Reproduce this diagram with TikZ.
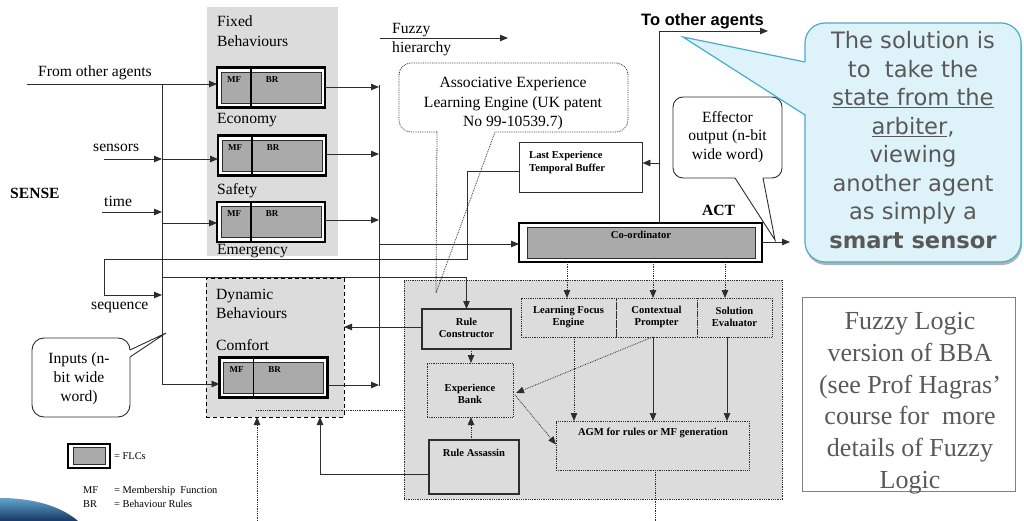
\documentclass[tikz,border=0pt]{standalone}
\usepackage{fontspec}
\setmainfont{Liberation Serif}
\newfontfamily\notesans{DejaVu Sans}
\newfontfamily\headsans{Liberation Sans}
\usetikzlibrary{arrows.meta,shadows,calc}

\definecolor{panel}{RGB}{220,220,220}
\definecolor{flcgray}{RGB}{170,170,170}
\definecolor{wire}{RGB}{45,45,45}
\definecolor{notefill}{RGB}{222,243,249}
\definecolor{noteedge}{RGB}{75,172,198}
\definecolor{notetext}{RGB}{89,89,89}
\definecolor{boxedge}{RGB}{128,128,128}
\definecolor{swooshtop}{RGB}{95,165,205}
\definecolor{swooshbot}{RGB}{25,55,100}

\tikzset{
  wire/.style={draw=wire, line width=0.9pt},
  arr/.style={wire, -{Triangle[length=8pt,width=6.5pt]}},
  dotwire/.style={draw=wire, line width=0.8pt, densely dotted},
  darr/.style={dotwire, -{Triangle[length=8pt,width=6.5pt]}},
  lab/.style={inner sep=0pt, anchor=base west, font=\fontsize{15.6}{19}\selectfont},
  boldlab/.style={inner sep=0pt, anchor=base west, font=\fontsize{15.6}{19}\selectfont\bfseries},
  tag/.style={inner sep=0pt, align=center, font=\fontsize{10.6}{12.5}\selectfont\bfseries},
  legend/.style={inner sep=0pt, anchor=base west, font=\fontsize{10.4}{12}\selectfont},
  panelbox/.style={fill=panel, inner sep=0pt, outer sep=0pt},
  unitbox/.style={draw=wire, line width=0.8pt, densely dotted, inner sep=0pt, outer sep=0pt},
  solidbox/.style={draw=wire, line width=1.2pt, inner sep=0pt, outer sep=0pt},
  flcframe/.style={draw=black, line width=2.2pt, fill=white, minimum width=108pt,
    minimum height=40pt, inner sep=0pt, outer sep=0pt},
  flccore/.style={draw=wire, line width=0.8pt, fill=flcgray, minimum width=100pt,
    minimum height=31pt, inner sep=0pt},
  flctag/.style={inner sep=0pt, font=\fontsize{9}{10}\selectfont\bfseries},
  notelines/.style={inner sep=0pt, align=center, anchor=north},
}

% one fuzzy logic controller: framed grey block split into MF and BR
\newcommand{\flcunit}[3]{%
  \node[flcframe] (#1) at (#2,#3) {};
  \node[flccore] (#1-core) at (#2,#3) {};
  \draw[black, line width=1.2pt] ($(#1.north west)+(34,0)$) -- ($(#1.south west)+(34,0)$);
  \node[flctag] (#1-mf) at ($(#1.north west)+(17,12)$) {MF};
  \node[flctag] (#1-br) at ($(#1.north west)+(55,12)$) {BR};
}

\begin{document}
\begin{tikzpicture}[x=1pt,y=-1pt]
\fill[white] (0,0) rectangle (1024,521);
\useasboundingbox (0,0) rectangle (1024,521);

% slide swoosh
\shade[top color=swooshtop, bottom color=swooshbot]
  (0,498) .. controls (35,498) and (62,507) .. (78,521) -- (0,521) -- cycle;

% ---------- panels ----------
\node[panelbox, minimum width=131pt, minimum height=249pt] (fixedpanel) at (272.5,131.5) {};
\node[panelbox, draw=black, line width=0.9pt, dash pattern=on 4pt off 3pt,
      minimum width=138pt, minimum height=139pt] (dyn) at (275,347.5) {};
\node[panelbox, draw=wire, line width=0.8pt, densely dotted,
      minimum width=378pt, minimum height=219pt] (engine) at (593,389.5) {};

% ---------- fixed behaviours ----------
\node[lab] (fixedA) at (217,27) {Fixed};
\node[lab] (fixedB) at (217,47) {Behaviours};
\node[lab] (economy) at (217,124) {Economy};
\node[lab] (safety) at (217,195) {Safety};
\node[lab] (emergency) at (217,254) {Emergency};

\flcunit{f1}{271}{87.5}
\flcunit{f2}{272}{155.5}
\flcunit{f3}{271}{222}

% ---------- dynamic behaviours ----------
\node[lab] (dynA) at (216,299) {Dynamic};
\node[lab] (dynB) at (216,318) {Behaviours};
\node[lab] (comfort) at (216,350) {Comfort};
\flcunit{f4}{273.5}{377.5}

% ---------- sense side ----------
\node[boldlab] (sense) at (10,199) {SENSE};
\node[lab] (fromlbl) at (38,77) {From other agents};
\node[lab] (senslbl) at (93,152) {sensors};
\node[lab] (timelbl) at (104,207) {time};
\node[lab] (seqlbl) at (91,309) {sequence};

\coordinate (busLtop) at (162,84);
\coordinate (busLbot) at (162,384);
\coordinate (fromsrc) at (27,84);
\coordinate (senssrc) at (104,159);
\coordinate (timesrc) at (102,212);
\coordinate (timetap) at (162,223);

\draw[arr] (fromsrc) -- (fromsrc -| f1.west);
\draw[arr] (busLtop) -- (busLbot) -- (busLbot -| f4.west);
\draw[arr] (senssrc) -- (senssrc -| busLtop);
\draw[arr] (senssrc -| busLtop) -- (senssrc -| f2.west);
\draw[arr] (timesrc) -- (timesrc -| busLtop);
\draw[arr] (timetap) -- (timetap -| f3.west);

% ---------- behaviour outputs ----------
\coordinate (busRtop) at (379,85);
\coordinate (busRbot) at (379,386);
\coordinate (hier) at (379,244);
\draw[wire] (busRtop) -- (busRbot);
\coordinate (f1o) at ($(f1.east)+(0,-0.5)$);
\coordinate (f2o) at ($(f2.east)+(0,-1.5)$);
\coordinate (f3o) at ($(f3.east)+(0,-2)$);
\coordinate (f4o) at ($(f4.east)+(0,7.5)$);
\draw[arr] (f1o) -- (f1o -| busRtop);
\draw[arr] (f2o) -- (f2o -| busRtop);
\draw[arr] (f3o) -- (f3o -| busRtop);
\draw[arr] (f4o) -- (f4o -| busRtop);

\coordinate (fhsrc) at (380,38);
\coordinate (fhend) at (508,38);
\draw[arr] (fhsrc) -- (fhend);
\node[lab] (fuzzA) at (392,34) {Fuzzy};
\node[lab] (fuzzB) at (392,53) {hierarchy};

% ---------- co-ordinator ----------
\node[flcframe, minimum width=243pt, minimum height=39pt] (coord) at (640.5,242.5) {};
\node[flccore, minimum width=228pt, minimum height=31pt] (coordcore) at (641,242.5) {};
\node[tag] (coordlbl) at (641,234.5) {Co-ordinator};
\node[boldlab] (act) at (702,215) {ACT};
\draw[arr] (hier) -- (hier -| coord.west);

% ---------- last experience buffer ----------
\node[draw=wire, line width=0.9pt, fill=white, minimum width=123pt, minimum height=50pt,
      inner sep=0pt] (le) at (580.5,167) {};
\node[tag, align=left, anchor=north west] (lelbl) at (529,151) {Last Experience\\Temporal Buffer};

\coordinate (upbus) at (659,31);
\coordinate (toagents) at (768,31);
\draw[arr] (upbus |- coord.north) -- (upbus) -- (toagents);
\coordinate (lein) at ($(le.east)+(0,-4)$);
\draw[arr] (lein -| upbus) -- (lein);
\node[inner sep=0pt, anchor=base, font=\headsans\fontsize{16.5}{19}\selectfont\bfseries]
  (toagentslbl) at (702.5,26) {To other agents};

% sequence feedback from the buffer to the input bus
\coordinate (leout) at ($(le.west)+(0,4)$);
\coordinate (seqdrop) at (467,259);
\coordinate (seqleft) at (104,259);
\coordinate (seqin) at (162,295);
\draw[arr] (leout) -| (seqdrop) -- (seqleft) |- (seqin);

% ---------- learning engine ----------
\node[solidbox, fill=panel, minimum width=89pt, minimum height=40pt] (rc) at (466.5,329) {};
\node[tag] (rclbl) at (466.5,328) {Rule\\Constructor};
\node[unitbox, minimum width=86pt, minimum height=54pt] (eb) at (470,390) {};
\node[tag] (eblbl) at (470,394) {Experience\\Bank};
\node[solidbox, minimum width=90pt, minimum height=54pt] (ra) at (474,467) {};
\node[tag] (ralbl) at (474,452.5) {Rule Assassin};

\node[unitbox, minimum width=95pt, minimum height=39pt] (lfe) at (568.5,317.5) {};
\node[tag] (lfelbl) at (568.5,317) {Learning Focus\\Engine};
\node[unitbox, minimum width=81pt, minimum height=39pt] (cp) at (656.5,317.5) {};
\node[tag] (cplbl) at (656.5,317) {Contextual\\Prompter};
\node[unitbox, minimum width=75pt, minimum height=39pt] (se) at (734.5,317.5) {};
\node[tag] (selbl) at (734.5,317) {Solution\\Evaluator};
\node[unitbox, minimum width=193pt, minimum height=49pt] (agm) at (652.5,445.5) {};
\node[tag] (agmlbl) at (653,433) {AGM for rules or MF generation};

\coordinate (rcfeed) at (162,277);
\draw[arr] (rcfeed) -| (rc.north);
\coordinate (rcout) at ($(rc.west)+(0,-2)$);
\draw[arr] (rcout) -- (rcout -| dyn.east);

\coordinate (rcdown) at ($(rc.south)+(4.5,0)$);
\coordinate (raup) at ($(ra.north)+(-3,0)$);
\draw[darr] (rcdown) -- (rcdown |- eb.north);
\draw[darr] (raup) -- (raup |- eb.south);

% co-ordinator tasks the three evaluators
\coordinate (lfetop) at ($(lfe.north)+(-1.5,0)$);
\coordinate (cptop) at ($(cp.north)+(-3.5,0)$);
\coordinate (setop) at ($(se.north)+(-9.5,0)$);
\draw[darr] (lfetop |- coord.south) -- (lfetop);
\draw[darr] (cptop |- coord.south) -- (cptop);
\draw[darr] (setop |- coord.south) -- (setop);

% evaluators feed the AGM
\coordinate (lfebot) at ($(lfe.south)+(5.5,0)$);
\coordinate (cpbot) at ($(cp.south)+(-3.5,0)$);
\coordinate (sebot) at ($(se.south)+(-7.5,0)$);
\draw[darr] (lfebot) -- (lfebot |- agm.north);
\draw[arr, line width=0.7pt] (cpbot) -- (cpbot |- agm.north);
\draw[arr, line width=0.7pt] (sebot) -- (sebot |- agm.north);

\draw[darr] ($(cp.south)+(-4,0)$) -- ($(eb.east)+(3,3)$);
\draw[darr] ($(eb.east)+(2,5)$) -- ($(agm.west)+(0,-1)$);

\coordinate (agmout) at (655,521);
\draw[dotwire] (agmout |- agm.south) -- (agmout);

% returns into the dynamic behaviours
\coordinate (dynin) at (257,521);
\draw[darr] (dynin) -- (dynin |- dyn.south);
\coordinate (dynlink) at (256,410);
\draw[dotwire] (dynlink) -- (dynlink -| engine.west);
\coordinate (raret) at (320,474);
\draw[arr] ($(ra.west)+(0,7)$) -- (raret) -- (raret |- dyn.south);

% ---------- effector output ----------
\coordinate (effout) at (790,242);
\draw[arr] (coord.east |- effout) -- (effout);

% ---------- callouts ----------
% associative engine note (dotted)
\draw[dotwire, rounded corners=12pt] (437,132) -- (399,132) -- (399,63) -- (628,63) -- (628,132) -- (495,132);
\draw[dotwire] (437,132) -- (436,293) -- (495,132);
\node[notelines, font=\fontsize{15.6}{19.5}\selectfont] (assoc) at (513,77)
  {Associative Experience\\Learning Engine (UK patent\\No 99-10539.7)};

% effector note
\draw[wire, rounded corners=10pt] (735,178) -- (673,178) -- (673,97) -- (782,97) -- (782,178) -- (763,178);
\draw[wire] (735,178) -- (775,240) -- (763,178);
\node[notelines, font=\fontsize{15.6}{18.5}\selectfont] (effector) at (727.5,111)
  {Effector\\output (n-bit\\wide word)};

% inputs note
\draw[wire, rounded corners=12pt] (130,350) -- (130,338) -- (32,338) -- (32,417) -- (130,417) -- (130,357);
\draw[wire] (130,350) -- (166,333) -- (130,357);
\node[notelines, font=\fontsize{15.6}{19}\selectfont] (inputs) at (79,352)
  {Inputs (n-\\bit wide\\word)};

% ---------- legend ----------
\node[flcframe, minimum width=42pt, minimum height=24pt] (legflc) at (89,456) {};
\node[flccore, minimum width=32pt, minimum height=17pt] (legflccore) at (89,455.5) {};
\node[legend] (legA) at (114,459) {= FLCs};
\node[legend] (legMF) at (83,493) {MF};
\node[legend] (legMFt) at (114,493) {= Membership\ \ Function};
\node[legend] (legBR) at (83,507) {BR};
\node[legend] (legBRt) at (114,507) {= Behaviour Rules};

% ---------- side note box ----------
\node[draw=boxedge, line width=1pt, minimum width=213pt, minimum height=194pt,
      inner sep=0pt] (fuzzynote) at (908.5,394) {};
\node[notelines, text=notetext, font=\fontsize{26}{31.8}\selectfont] (fuzzytext) at (910,312)
  {Fuzzy Logic\\version of BBA\\(see Prof Hagras'\\course for\ \ more\\details of Fuzzy\\Logic};

% ---------- solution callout ----------
\node[draw=noteedge, fill=notefill, line width=1.2pt, rounded corners=20pt,
      minimum width=216pt, minimum height=239pt, inner sep=0pt,
      drop shadow={shadow xshift=1pt, shadow yshift=-3pt, opacity=0.3, fill=black}]
  (solution) at (913,142.5) {};
\fill[notefill] (806.5,62) -- (683,37) -- (806.5,115) -- cycle;
\draw[draw=noteedge, line width=1.2pt, line join=miter] (805,62) -- (683,37) -- (805,115);
\node[notelines, text=notetext, font=\notesans\fontsize{22.6}{28.5}\selectfont] (solutiontext) at (913,31.5)
  {The solution is\\to\ \ take the\\\underline{state from the}\\\underline{arbiter},\\viewing\\another agent\\as simply a\\\textbf{smart sensor}};
\end{tikzpicture}
\end{document}
